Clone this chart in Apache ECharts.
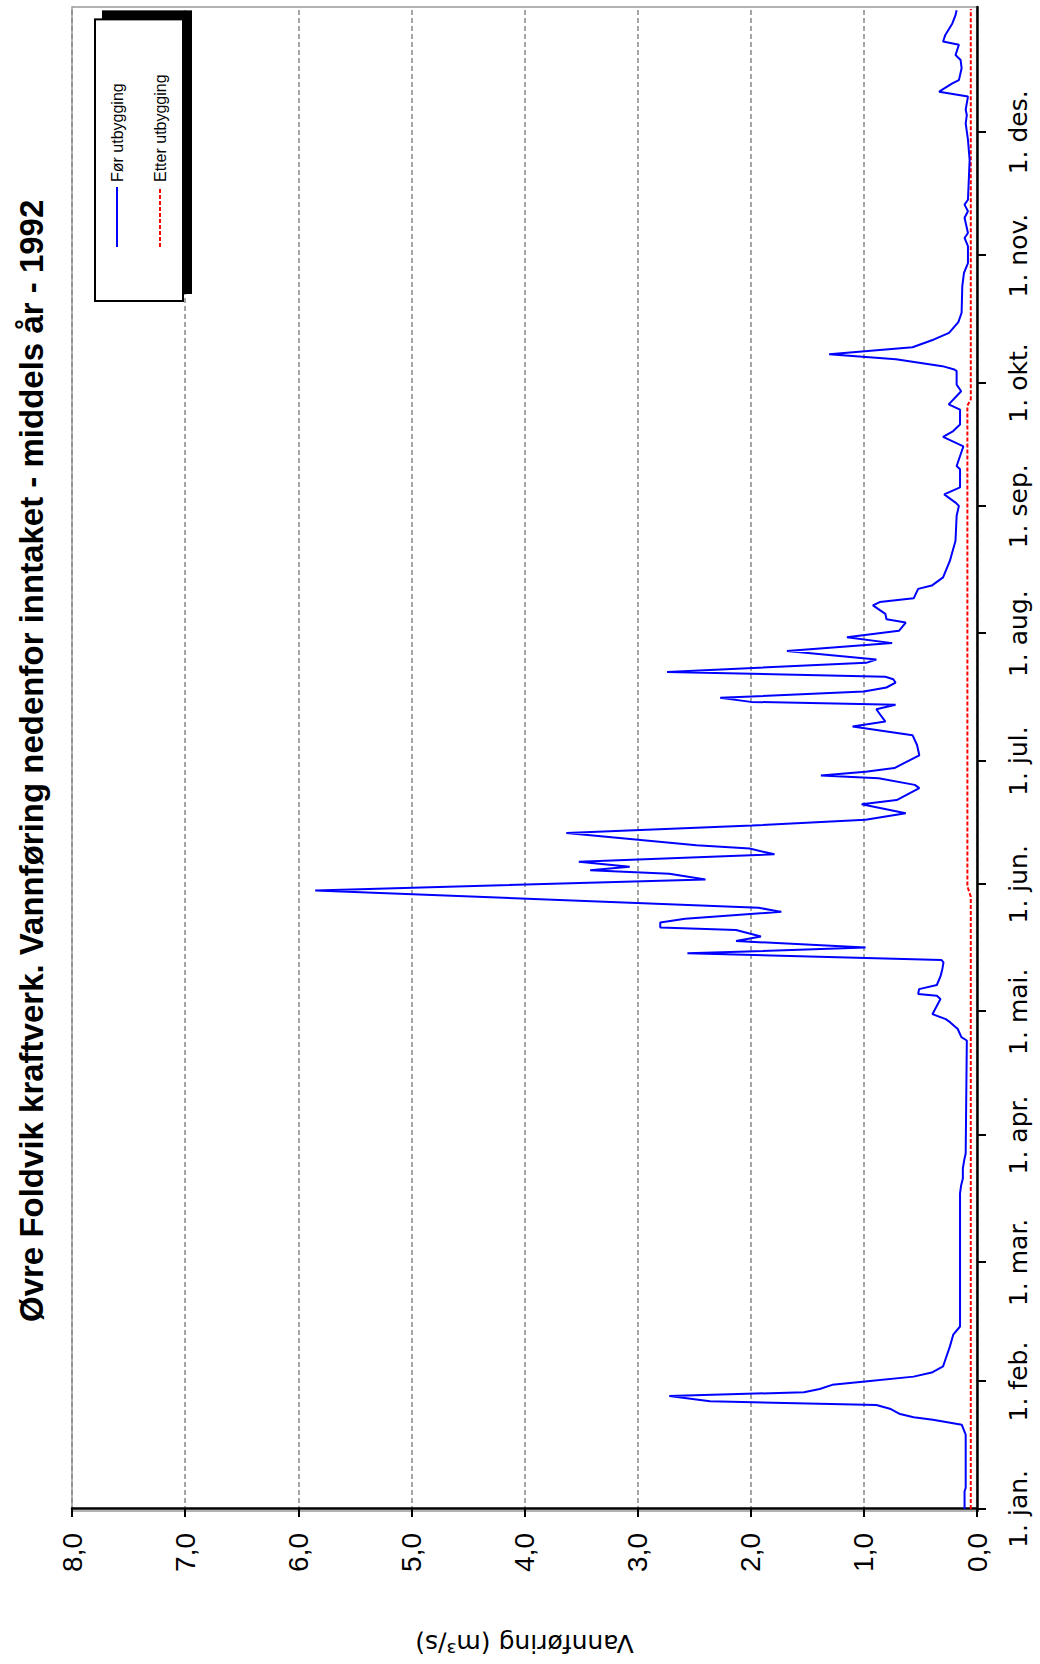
<!DOCTYPE html>
<html><head><meta charset="utf-8">
<script src="https://cdn.jsdelivr.net/npm/echarts@6/dist/echarts.min.js"></script>
<style>
html,body{margin:0;padding:0;background:#fff;width:1040px;height:1664px;overflow:hidden}
#wrap{position:absolute;left:0;top:0;width:1664px;height:1040px;transform-origin:0 0;transform:translate(0,1664px) rotate(-90deg)}
</style></head><body>
<div id="wrap"></div>
<script>
const chartTitle = 'Øvre Foldvik kraftverk. Vannføring nedenfor inntaket - middels år - 1992';
const valueAxisName = 'Vannføring (m³/s)';
const seriesNames = ['Før utbygging', 'Etter utbygging'];
const monthStartDays = [0, 31, 60, 91, 121, 152, 182, 213, 244, 274, 305, 335];
const monthLabels = ['1. jan.', '1. feb.', '1. mar.', '1. apr.', '1. mai.', '1. jun.', '1. jul.', '1. aug.', '1. sep.', '1. okt.', '1. nov.', '1. des.'];

// Før utbygging: day of year (0 = 1. jan.) and flow (m3/s)
const forDays = [0, 4.3, 5.1, 18.1, 20.5, 21.7, 22.3, 23.1, 24.4, 25.3, 26.2, 27.5, 28.4, 29.2, 30.2, 31.0, 32.2, 33.2, 34.7, 36.3, 39.5, 42.4, 44.4, 76.8, 78.8, 80.4, 82.9, 85.3, 86.5,
  114.0, 114.8, 116.8, 118.4, 119.2, 120.4, 124.1, 124.9, 125.3, 126.5, 127.5, 129.6, 131.3, 133.0, 133.6, 135.2, 136.6, 138.2, 139.3, 140.9, 141.5, 142.7, 143.6, 145.3, 146.3,
  150.5, 153.2, 154.6, 155.4, 156.3, 157.5, 159.3, 160.7, 161.5, 164.5, 166.3, 167.7, 169.3, 171.5, 172.5, 175.4, 176.2, 177.8, 178.5, 179.4, 180.3, 183.4, 185.9, 188.3,
  190.4, 191.6, 194.6, 195.7, 196.4, 197.4, 198.9, 199.9, 201.1, 201.9, 202.5, 203.7, 205.9, 206.7, 208.8, 210.7, 212.1, 213.7, 215.7, 216.5, 217.8, 219.9, 220.7, 221.6,
  223.9, 224.7, 226.7, 230.7, 235.6, 241.7, 244.1, 244.9, 246.9, 248.6, 253.0, 253.8, 258.6, 260.9, 262.3, 263.9, 267.5, 268.8, 272.0, 273.6, 276.9, 277.3, 278.1, 279.8,
  281.0, 282.7, 284.6, 286.2, 288.8, 291.1, 297.6, 300.8, 303.2, 307.3, 309.3, 310.5, 314.2, 315.8, 317.4, 318.6, 328.3, 333.2, 337.2, 339.2, 340.5, 343.7, 344.9, 346.9,
  347.7, 350.6, 352.6, 353.8, 356.3, 357.1, 358.7, 361.5, 363.5, 364.7];
const forValues = [0.11, 0.11, 0.10, 0.10, 0.135, 0.39, 0.56, 0.68, 0.77, 0.89, 2.36, 2.72, 1.53, 1.39, 1.28, 0.99, 0.56, 0.40, 0.30, 0.28, 0.24, 0.21, 0.15, 0.15, 0.14, 0.125, 0.125, 0.11, 0.10,
  0.09, 0.138, 0.17, 0.236, 0.276, 0.394, 0.323, 0.355, 0.52, 0.512, 0.355, 0.323, 0.307, 0.296, 0.315, 2.56, 0.985, 2.13, 1.91, 2.13, 2.80, 2.80, 2.58, 1.73, 1.93,
  5.85, 2.40, 2.72, 3.42, 3.07, 3.52, 1.79, 2.01, 2.48, 3.63, 1.99, 0.985, 0.63, 1.02, 0.71, 0.51, 0.55, 0.87, 1.38, 0.985, 0.73, 0.51, 0.53, 0.57,
  1.10, 0.81, 0.89, 0.72, 2.0, 2.27, 1.0, 0.80, 0.72, 0.74, 0.81, 2.74, 0.98, 0.89, 1.68, 0.75, 1.15, 0.69, 0.63, 0.80, 0.81, 0.92, 0.86, 0.56,
  0.52, 0.40, 0.30, 0.24, 0.19, 0.18, 0.16, 0.19, 0.29, 0.15, 0.15, 0.18, 0.12, 0.30, 0.21, 0.15, 0.15, 0.25, 0.14, 0.18, 0.18, 0.20, 0.306, 0.717,
  1.307, 0.57, 0.38, 0.247, 0.165, 0.136, 0.13, 0.115, 0.08, 0.08, 0.11, 0.08, 0.11, 0.08, 0.11, 0.08, 0.065, 0.08, 0.10, 0.09, 0.10, 0.08, 0.335, 0.218,
  0.16, 0.136, 0.145, 0.19, 0.16, 0.30, 0.28, 0.218, 0.19, 0.18];

// Etter utbygging
const etterDays = [0, 149.0, 151.5, 268.5, 270.0, 365.0];
const etterValues = [0.055, 0.055, 0.085, 0.085, 0.055, 0.055];

const chart = echarts.init(document.getElementById('wrap'), null, { renderer: 'svg', width: 1664, height: 1040 });
chart.setOption({
  animation: false,
  backgroundColor: '#ffffff',
  title: {
    text: chartTitle, left: 337, top: 10,
    textStyle: { fontFamily: 'Liberation Sans', fontSize: 33, fontWeight: 'bold', color: '#000' }
  },
  legend: {
    orient: 'vertical', left: 1363, top: 95,
    itemWidth: 60, itemHeight: 16, itemGap: 27,
    padding: [14, 55, 15, 53],
    backgroundColor: '#ffffff', borderColor: '#000', borderWidth: 2, borderRadius: 0,
    shadowColor: '#000', shadowBlur: 0, shadowOffsetX: 8, shadowOffsetY: 8,
    itemStyle: { opacity: 0 },
    textStyle: { fontFamily: 'Liberation Sans', fontSize: 16, color: '#000' },
    data: seriesNames
  },
  grid: { left: 151, right: 7, top: 72, bottom: 63, show: true, borderColor: '#999', borderWidth: 1.5, backgroundColor: 'transparent' },
  xAxis: {
    type: 'value', min: -0.5, max: 365.5,
    axisLine: { show: true, onZero: false, lineStyle: { color: '#000', width: 2.5 } },
    axisTick: { show: true, inside: false, length: 9, customValues: monthStartDays, lineStyle: { color: '#000', width: 2 } },
    axisLabel: {
      customValues: monthStartDays, margin: 29,
      fontFamily: 'DejaVu Sans', fontSize: 25, color: '#000',
      formatter: function (v) { return monthLabels[monthStartDays.indexOf(v)]; }
    },
    splitLine: { show: false }
  },
  yAxis: {
    type: 'value', min: 0, max: 8, interval: 1,
    name: valueAxisName, nameLocation: 'middle', nameGap: 120,
    nameTextStyle: { fontFamily: 'DejaVu Sans', fontSize: 25, color: '#000' },
    axisLine: { show: true, lineStyle: { color: '#000', width: 2.5 } },
    axisTick: { show: true, length: 8, lineStyle: { color: '#000', width: 2 } },
    axisLabel: {
      margin: 22, fontFamily: 'Liberation Sans', fontSize: 28, color: '#000',
      formatter: function (v) { return v.toFixed(1).replace('.', ','); }
    },
    splitLine: { show: true, lineStyle: { color: '#888', width: 1.5, type: [5, 3] } }
  },
  series: [
    {
      name: seriesNames[0], type: 'line', symbol: 'none', z: 3,
      data: forDays.map(function (d, i) { return [d, forValues[i]]; }),
      lineStyle: { color: '#0000ff', width: 2 }, itemStyle: { color: '#0000ff' }
    },
    {
      name: seriesNames[1], type: 'line', symbol: 'none', z: 2,
      data: etterDays.map(function (d, i) { return [d, etterValues[i]]; }),
      lineStyle: { color: '#ff0000', width: 2, type: [4, 2] }, itemStyle: { color: '#ff0000' }
    }
  ]
});
</script>
</body></html>
